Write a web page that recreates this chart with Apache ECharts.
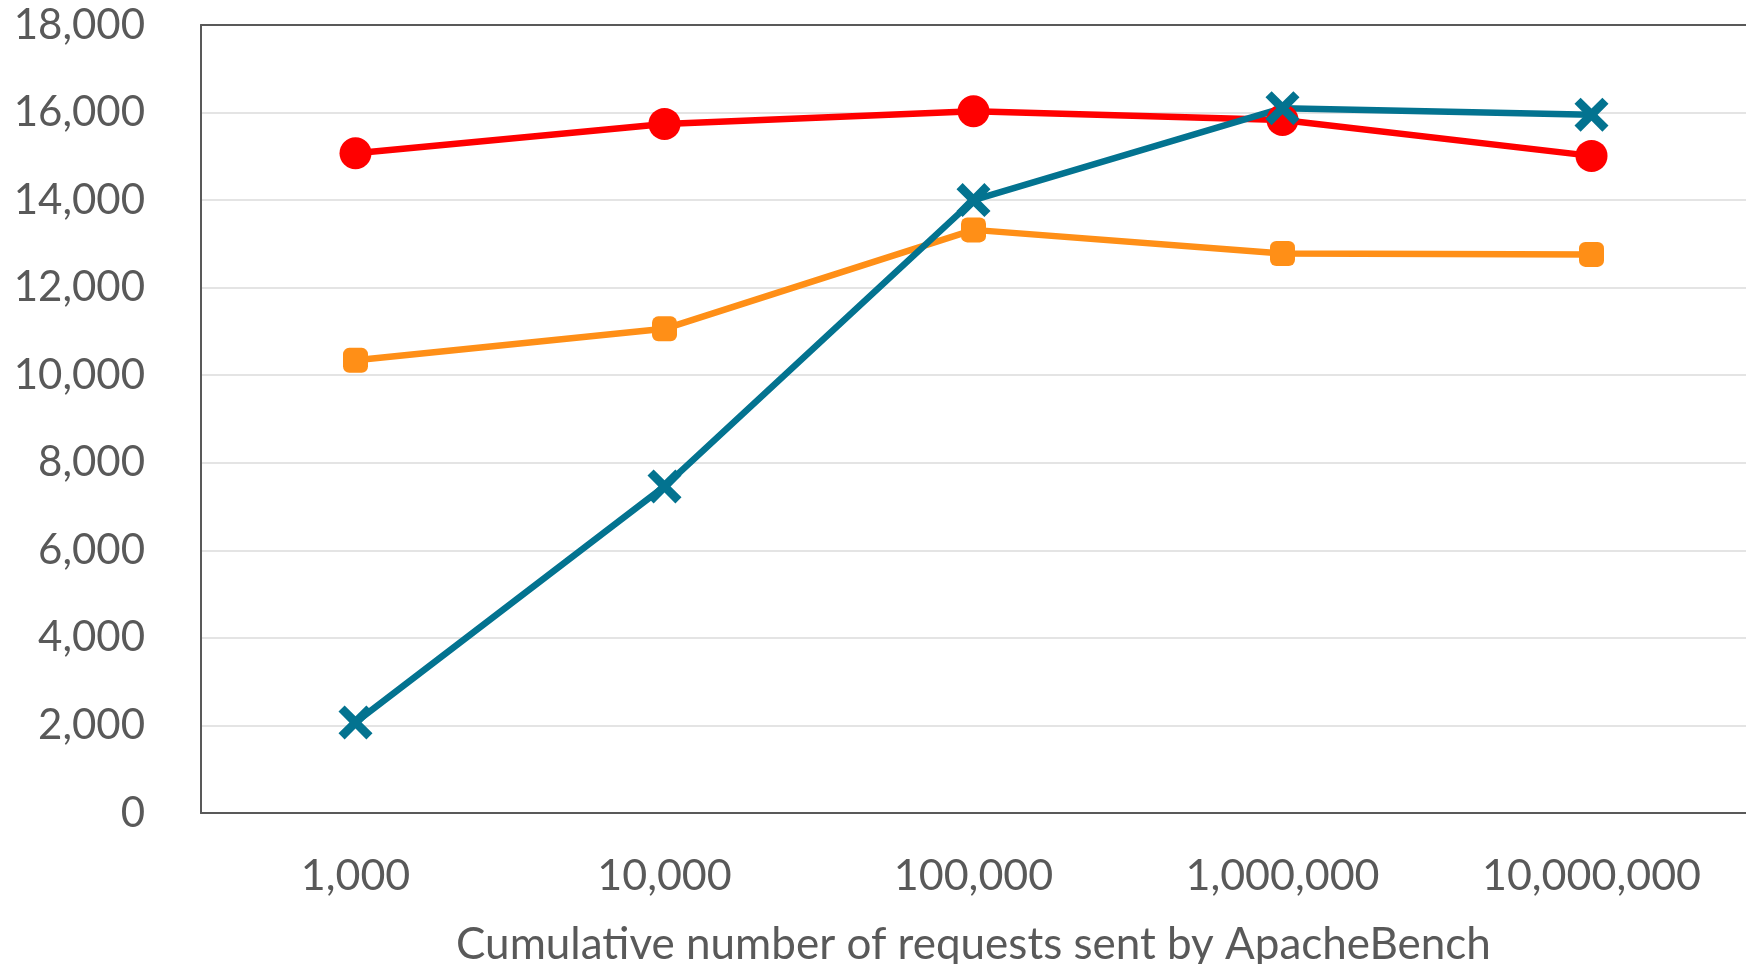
<!DOCTYPE html>
<html>
<head>
<meta charset="utf-8">
<script src="https://cdn.jsdelivr.net/npm/echarts@6/dist/echarts.min.js"></script>
<style>
  html, body { margin: 0; padding: 0; background: #ffffff; overflow: hidden; }
  #chart { width: 1746px; height: 964px; }
</style>
</head>
<body>
<div id="chart"></div>
<script>
// Request counts along the x axis
const categories = ['1,000', '10,000', '100,000', '1,000,000', '10,000,000'];

// Throughput per configuration
const redValues = [15070, 15740, 16030, 15830, 15010];
const orangeValues = [10340, 11060, 13320, 12780, 12760];
const blueValues = [2070, 7460, 14000, 16100, 15950];

const xAxisTitle = 'Cumulative number of requests sent by ApacheBench';

// Thick "x" marker drawn as a filled outline
const crossPath = 'path://M0,18 L18,0 L50,32 L82,0 L100,18 L68,50 L100,82 L82,100 L50,68 L18,100 L0,82 L32,50 Z';

const textColor = '#595959';
const frameColor = '#595959';
const fontFamily = 'Lato, "Open Sans", sans-serif';

const chart = echarts.init(document.getElementById('chart'), null, { renderer: 'canvas' });

chart.setOption({
  animation: false,
  backgroundColor: '#ffffff',
  grid: {
    left: 201,
    top: 25,
    bottom: 151,
    width: 1545,
    show: false,
    containLabel: false,
    outerBoundsMode: 'none'
  },
  xAxis: [
    {
      type: 'category',
      data: categories,
      boundaryGap: true,
      position: 'bottom',
      axisLine: { show: true, lineStyle: { color: frameColor, width: 2 } },
      axisTick: { show: false },
      splitLine: { show: false },
      axisLabel: {
        color: textColor,
        fontFamily: fontFamily,
        fontSize: 43,
        margin: 42,
        interval: 0
      },
      name: xAxisTitle,
      nameLocation: 'middle',
      nameGap: 110,
      nameTextStyle: {
        color: textColor,
        fontFamily: fontFamily,
        fontSize: 44
      }
    },
    {
      // top edge of the plot frame
      type: 'category',
      data: categories,
      boundaryGap: true,
      position: 'top',
      axisLine: { show: true, lineStyle: { color: frameColor, width: 2 } },
      axisTick: { show: false },
      axisLabel: { show: false },
      splitLine: { show: false }
    }
  ],
  yAxis: {
    type: 'value',
    min: 0,
    max: 18000,
    interval: 2000,
    axisLine: { show: true, lineStyle: { color: frameColor, width: 2 } },
    axisTick: { show: false },
    splitLine: { show: true, lineStyle: { color: '#e4e4e4', width: 2 } },
    axisLabel: {
      color: textColor,
      fontFamily: fontFamily,
      fontSize: 42,
      margin: 56,
      formatter: function (v) { return v.toLocaleString('en-US'); }
    }
  },
  series: [
    {
      type: 'line',
      data: redValues,
      symbol: 'circle',
      symbolSize: 32,
      showAllSymbol: true,
      lineStyle: { color: '#ff0000', width: 6.5 },
      itemStyle: { color: '#ff0000' }
    },
    {
      type: 'line',
      data: orangeValues,
      symbol: 'roundRect',
      symbolSize: 25,
      showAllSymbol: true,
      lineStyle: { color: '#ff8f17', width: 6.5 },
      itemStyle: { color: '#ff8f17' }
    },
    {
      type: 'line',
      data: blueValues,
      symbol: crossPath,
      symbolSize: 34,
      showAllSymbol: true,
      lineStyle: { color: '#037390', width: 6.5 },
      itemStyle: { color: '#037390' }
    }
  ]
});
</script>
</body>
</html>
